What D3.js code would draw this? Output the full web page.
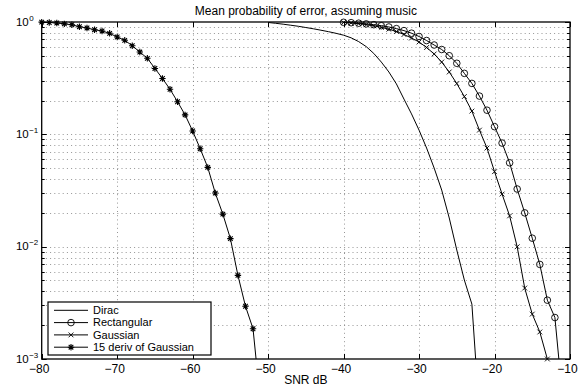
<!DOCTYPE html>
<html>
<head>
<meta charset="utf-8">
<script src="https://cdn.jsdelivr.net/npm/d3@7"></script>
<style>
  html, body { margin: 0; padding: 0; background: #fff; }
  svg { display: block; font-family: "Liberation Sans", Arial, Helvetica, sans-serif; }
</style>
</head>
<body>
<script>
// data (SNR in dB, probability of error)
const snrDirac = [-50, -49, -48, -47, -46, -45, -44, -43, -42, -41, -40, -39, -38, -37, -36, -35, -34, -33, -32, -31, -30, -29, -28, -27, -26, -25, -24, -23, -22];
const pDirac = [0.99, 0.974, 0.956, 0.936, 0.916, 0.893, 0.87, 0.845, 0.82, 0.793, 0.763, 0.723, 0.669, 0.604, 0.525, 0.44, 0.359, 0.281, 0.206, 0.152, 0.109, 0.0755, 0.0501, 0.0319, 0.018, 0.00933, 0.00505, 0.00308, 0.00032];

const snrRect = [-40, -39, -38, -37, -36, -35, -34, -33, -32, -31, -30, -29, -28, -27, -26, -25, -24, -23, -22, -21, -20, -19, -18, -17, -16, -15, -14, -13, -12, -11];
const pRect = [0.994, 0.986, 0.976, 0.962, 0.946, 0.927, 0.903, 0.873, 0.838, 0.795, 0.743, 0.684, 0.624, 0.569, 0.501, 0.429, 0.349, 0.284, 0.219, 0.164, 0.117, 0.0836, 0.0558, 0.0326, 0.02, 0.0119, 0.00695, 0.00334, 0.00234, 0.00046];

const snrGauss = [-40, -39, -38, -37, -36, -35, -34, -33, -32, -31, -30, -29, -28, -27, -26, -25, -24, -23, -22, -21, -20, -19, -18, -17, -16, -15, -14, -13, -12];
const pGauss = [0.99, 0.98, 0.966, 0.948, 0.925, 0.897, 0.863, 0.823, 0.774, 0.72, 0.664, 0.593, 0.519, 0.44, 0.359, 0.283, 0.217, 0.161, 0.109, 0.0755, 0.0465, 0.0294, 0.0188, 0.00998, 0.00428, 0.00251, 0.00174, 0.001, 0.0004];

const snrDeriv = [-80, -79, -78, -77, -76, -75, -74, -73, -72, -71, -70, -69, -68, -67, -66, -65, -64, -63, -62, -61, -60, -59, -58, -57, -56, -55, -54, -53, -52, -51];
const pDeriv = [0.997, 0.99, 0.98, 0.963, 0.945, 0.908, 0.884, 0.854, 0.831, 0.793, 0.735, 0.687, 0.615, 0.54, 0.475, 0.386, 0.314, 0.252, 0.195, 0.149, 0.107, 0.0745, 0.0508, 0.03, 0.0195, 0.0118, 0.00555, 0.00295, 0.00186, 0.0004];

const seriesNames = ["Dirac", "Rectangular", "Gaussian", "15 deriv of Gaussian"];
const seriesMarkers = ["none", "circle", "x", "star"];

const xTicks = [-80, -70, -60, -50, -40, -30, -20, -10];
const yTicks = [1e-3, 1e-2, 1e-1, 1];
const yTickExp = ["\u22123", "\u22122", "\u22121", "0"];
const titleText = "Mean probability of error, assuming music";
const xLabelText = "SNR dB";
// ----------

const W = 584;
const H = 390;
const p = { t: 22, r: 14, b: 31, l: 41.7 };
const fontSize = 12;
// ----------

const svg = d3.select("body")
  .append("svg")
  .attr("width", W)
  .attr("height", H);

const x = d3.scaleLinear().domain([-80, -10]).range([p.l, W - p.r]);
const y = d3.scaleLog().domain([1e-3, 1]).range([H - p.b, p.t]);
// ----------

// grid (dotted)
const grid = svg.append("g").attr("id", "grid")
  .attr("stroke", "#7a7a7a")
  .attr("stroke-width", 0.8)
  .attr("stroke-dasharray", "1,3.2");

grid.selectAll("line.gx")
  .data(xTicks.slice(1, -1))
  .enter()
  .append("line")
  .attr("class", "gx")
  .attr("x1", (d) => Math.round(x(d)) + 0.5)
  .attr("x2", (d) => Math.round(x(d)) + 0.5)
  .attr("y1", y(1))
  .attr("y2", y(1e-3));

// major + minor decades of the log axis
const yMinor = [];
yTicks.slice(0, -1).forEach((dec) => {
  for (let k = 1; k <= 9; k++) yMinor.push(dec * k);
});
yMinor.push(1);

grid.selectAll("line.gy")
  .data(yMinor.filter((d) => d > 1e-3 && d < 1))
  .enter()
  .append("line")
  .attr("class", "gy")
  .attr("x1", x(-80))
  .attr("x2", x(-10))
  .attr("y1", (d) => Math.round(y(d)) + 0.5)
  .attr("y2", (d) => Math.round(y(d)) + 0.5);
// ----------

// ticks inside the box, on all four sides
const ticks = svg.append("g").attr("id", "ticks").attr("stroke", "#000").attr("stroke-width", 1);
const majLen = 5;
const minLen = 3;

xTicks.forEach((d) => {
  const xx = Math.round(x(d)) + 0.5;
  ticks.append("line").attr("x1", xx).attr("x2", xx).attr("y1", y(1e-3)).attr("y2", y(1e-3) - majLen);
  ticks.append("line").attr("x1", xx).attr("x2", xx).attr("y1", y(1)).attr("y2", y(1) + majLen);
});

yMinor.forEach((d) => {
  const yy = Math.round(y(d)) + 0.5;
  const len = yTicks.includes(d) ? majLen : minLen;
  ticks.append("line").attr("x1", x(-80)).attr("x2", x(-80) + len).attr("y1", yy).attr("y2", yy);
  ticks.append("line").attr("x1", x(-10)).attr("x2", x(-10) - len).attr("y1", yy).attr("y2", yy);
});
// ----------

// series
svg.append("clipPath").attr("id", "plotclip")
  .append("rect")
  .attr("x", x(-80))
  .attr("y", y(1))
  .attr("width", x(-10) - x(-80))
  .attr("height", y(1e-3) - y(1));

const allSeries = [
  { name: seriesNames[0], marker: seriesMarkers[0], pts: snrDirac.map((s, i) => [s, pDirac[i]]) },
  { name: seriesNames[1], marker: seriesMarkers[1], pts: snrRect.map((s, i) => [s, pRect[i]]) },
  { name: seriesNames[2], marker: seriesMarkers[2], pts: snrGauss.map((s, i) => [s, pGauss[i]]) },
  { name: seriesNames[3], marker: seriesMarkers[3], pts: snrDeriv.map((s, i) => [s, pDeriv[i]]) },
];

const line = d3.line()
  .x((d) => x(d[0]))
  .y((d) => y(d[1]));

const drawMarker = (g, type, cx, cy) => {
  if (type === "circle") {
    g.append("circle").attr("cx", cx).attr("cy", cy).attr("r", 3.3)
      .attr("fill", "none").attr("stroke", "#000").attr("stroke-width", 0.9);
  } else if (type === "x") {
    const s = 2.4;
    g.append("path")
      .attr("d", `M${cx - s},${cy - s}L${cx + s},${cy + s}M${cx - s},${cy + s}L${cx + s},${cy - s}`)
      .attr("stroke", "#000").attr("stroke-width", 0.9).attr("fill", "none");
  } else if (type === "star") {
    const s = 3.2;
    const t = 2.3;
    g.append("path")
      .attr("d", `M${cx - s},${cy}L${cx + s},${cy}M${cx},${cy - s}L${cx},${cy + s}` +
        `M${cx - t},${cy - t}L${cx + t},${cy + t}M${cx - t},${cy + t}L${cx + t},${cy - t}`)
      .attr("stroke", "#000").attr("stroke-width", 1.1).attr("fill", "none");
  }
};

const plot = svg.append("g").attr("id", "series");
allSeries.forEach((s) => {
  plot.append("path")
    .datum(s.pts)
    .attr("d", line)
    .attr("clip-path", "url(#plotclip)")
    .attr("fill", "none")
    .attr("stroke", "#000")
    .attr("stroke-width", 1);
  const mg = plot.append("g");
  s.pts
    .filter((d) => d[1] >= 1e-3 && d[1] <= 1)
    .forEach((d) => drawMarker(mg, s.marker, x(d[0]), y(d[1])));
});
// ----------

// box
svg.append("rect")
  .attr("x", x(-80))
  .attr("y", y(1))
  .attr("width", x(-10) - x(-80))
  .attr("height", y(1e-3) - y(1))
  .attr("fill", "none")
  .attr("stroke", "#000")
  .attr("stroke-width", 1.3);
// ----------

// tick labels
svg.append("g")
  .selectAll("text")
  .data(xTicks)
  .enter()
  .append("text")
  .text((d) => (d < 0 ? "\u2212" + Math.abs(d) : d))
  .attr("x", (d) => x(d) - 2.5)
  .attr("y", y(1e-3) + 13.5)
  .attr("text-anchor", "middle")
  .attr("font-size", fontSize);

const yLab = svg.append("g");
yTicks.forEach((d, i) => {
  yLab.append("text")
    .text("10")
    .attr("x", p.l - 13)
    .attr("y", y(d) + 3.5)
    .attr("text-anchor", "end")
    .attr("font-size", 11.5);
  yLab.append("text")
    .text(yTickExp[i])
    .attr("x", p.l - 12.5)
    .attr("y", y(d) - 1.5)
    .attr("text-anchor", "start")
    .attr("font-size", 8);
});
// ----------

// title and axis label
svg.append("text")
  .text(titleText)
  .attr("x", (x(-80) + x(-10)) / 2)
  .attr("y", 14.5)
  .attr("text-anchor", "middle")
  .attr("font-size", fontSize);

svg.append("text")
  .text(xLabelText)
  .attr("x", (x(-80) + x(-10)) / 2)
  .attr("y", 384)
  .attr("text-anchor", "middle")
  .attr("font-size", fontSize);
// ----------

// legend
const legendFont = 11;
const legendStep = 12.3;
const lg = svg.append("g").attr("id", "legend").attr("transform", "translate(48, 302)");
lg.append("rect")
  .attr("width", 163)
  .attr("height", 53)
  .attr("fill", "#fff")
  .attr("stroke", "#000")
  .attr("stroke-width", 1.2);

allSeries.forEach((s, i) => {
  const ly = 8.3 + i * legendStep;
  lg.append("line")
    .attr("x1", 6).attr("x2", 40)
    .attr("y1", ly).attr("y2", ly)
    .attr("stroke", "#000").attr("stroke-width", 1);
  drawMarker(lg, s.marker, 23, ly);
  lg.append("text")
    .text(s.name)
    .attr("x", 45)
    .attr("y", ly + 3.8)
    .attr("font-size", legendFont);
});
// ----------
</script>
</body>
</html>
